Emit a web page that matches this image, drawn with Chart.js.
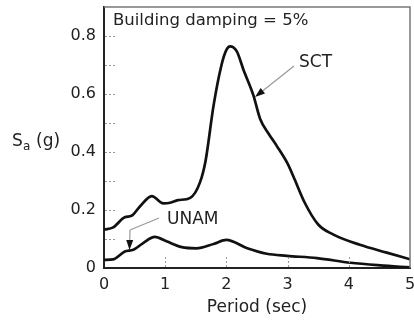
<!DOCTYPE html>
<html>
<head>
<meta charset="utf-8">
<script src="https://cdn.jsdelivr.net/npm/chart.js@4/dist/chart.umd.min.js"></script>
<style>
    html, body { margin: 0; padding: 0; background: #fff; overflow: hidden; }
    #wrap { width: 422px; height: 320px; }
</style>
</head>
<body>
<div id="wrap"><canvas id="espectro" width="422" height="320"></canvas></div>
<script>
// periodo (s) e Sa (g)
const sctPeriodo = [0, 0.15, 0.34, 0.45, 0.59, 0.78, 0.97, 1.08, 1.21, 1.41, 1.57, 1.66, 1.79, 1.92, 2.0, 2.06, 2.17, 2.28, 2.44, 2.55, 2.69, 2.82, 3.0, 3.09, 3.28, 3.5, 3.75, 4.18, 4.62, 5.0];
const sctSa = [0.132, 0.14, 0.175, 0.18, 0.213, 0.248, 0.223, 0.225, 0.234, 0.242, 0.296, 0.37, 0.56, 0.70, 0.752, 0.764, 0.747, 0.683, 0.596, 0.515, 0.463, 0.422, 0.36, 0.318, 0.225, 0.15, 0.115, 0.08, 0.053, 0.03];

const unamPeriodo = [0, 0.15, 0.34, 0.48, 0.64, 0.83, 1.02, 1.27, 1.51, 1.79, 2.0, 2.34, 2.66, 2.99, 3.48, 4.03, 4.51, 5.0];
const unamSa = [0.028, 0.03, 0.057, 0.063, 0.086, 0.107, 0.092, 0.072, 0.068, 0.083, 0.097, 0.068, 0.049, 0.042, 0.034, 0.018, 0.009, 0.002];

const yTicks = [0, 0.2, 0.4, 0.6, 0.8];
const yMinorTicks = [0.1, 0.2, 0.3, 0.4, 0.5, 0.6, 0.7, 0.8];
const xTicks = [0, 1, 2, 3, 4, 5];
const xMinorTicks = [1, 2, 3, 4];

const FONTE = '"DejaVu Sans", Verdana, sans-serif';
const COR_TEXTO = '#222';

function pontos(xs, ys) {
    return xs.map((x, i) => ({ x: x, y: ys[i] }));
}

function seta(ctx, x0, y0, x1, y1) {
    const ang = Math.atan2(y1 - y0, x1 - x0);
    const tam = 10;
    ctx.strokeStyle = '#999';
    ctx.lineWidth = 1.2;
    ctx.beginPath();
    ctx.moveTo(x0, y0);
    ctx.lineTo(x1 - Math.cos(ang) * tam, y1 - Math.sin(ang) * tam);
    ctx.stroke();
    ctx.fillStyle = '#111';
    ctx.beginPath();
    ctx.moveTo(x1, y1);
    ctx.lineTo(x1 - tam * Math.cos(ang) + 3.5 * Math.sin(ang), y1 - tam * Math.sin(ang) - 3.5 * Math.cos(ang));
    ctx.lineTo(x1 - tam * Math.cos(ang) - 3.5 * Math.sin(ang), y1 - tam * Math.sin(ang) + 3.5 * Math.cos(ang));
    ctx.closePath();
    ctx.fill();
}

const extras = {
    id: 'extras',
    afterDraw(chart) {
        const ctx = chart.ctx;
        const a = chart.chartArea;
        const sx = chart.scales.x, sy = chart.scales.y;
        ctx.save();

        // moldura superior e direita
        ctx.strokeStyle = '#777';
        ctx.lineWidth = 1.5;
        ctx.beginPath();
        ctx.moveTo(a.left, a.top);
        ctx.lineTo(a.right, a.top);
        ctx.lineTo(a.right, a.bottom);
        ctx.stroke();

        // marcas pontilhadas internas
        ctx.strokeStyle = '#999';
        ctx.lineWidth = 1;
        ctx.setLineDash([2, 2]);
        yMinorTicks.forEach(v => {
            const y = Math.round(sy.getPixelForValue(v)) + 0.5;
            ctx.beginPath();
            ctx.moveTo(a.left + 1, y);
            ctx.lineTo(a.left + 11, y);
            ctx.stroke();
        });
        xMinorTicks.forEach(v => {
            const x = Math.round(sx.getPixelForValue(v)) + 0.5;
            ctx.beginPath();
            ctx.moveTo(x, a.bottom - 1);
            ctx.lineTo(x, a.bottom - 11);
            ctx.stroke();
        });
        ctx.setLineDash([]);

        // textos
        ctx.fillStyle = COR_TEXTO;
        ctx.textBaseline = 'middle';
        ctx.textAlign = 'left';
        ctx.font = '16.5px ' + FONTE;
        ctx.fillText('Building damping = 5%', a.left + 9, a.top + 14);
        ctx.font = '17px ' + FONTE;
        ctx.fillText('SCT', 299, 63);
        ctx.fillText('UNAM', 167, 220);

        // titulo do eixo y com subscrito
        ctx.textBaseline = 'alphabetic';
        ctx.font = '17px ' + FONTE;
        ctx.fillText('S', 12, 146);
        ctx.font = '12px ' + FONTE;
        ctx.fillText('a', 23, 150);
        ctx.font = '17px ' + FONTE;
        ctx.fillText('(g)', 36, 146);

        // setas
        seta(ctx, 294, 66, 255, 97);
        ctx.strokeStyle = '#999';
        ctx.lineWidth = 1.2;
        ctx.beginPath();
        ctx.moveTo(159, 218);
        ctx.lineTo(130, 230);
        ctx.stroke();
        seta(ctx, 130, 230, 129.5, 250);

        ctx.restore();
    }
};

new Chart(document.getElementById('espectro'), {
    type: 'line',
    data: {
        datasets: [
            {
                label: 'SCT',
                data: pontos(sctPeriodo, sctSa),
                borderColor: '#111',
                borderWidth: 2.7,
                pointRadius: 0,
                cubicInterpolationMode: 'monotone',
                fill: false
            },
            {
                label: 'UNAM',
                data: pontos(unamPeriodo, unamSa),
                borderColor: '#111',
                borderWidth: 2.7,
                pointRadius: 0,
                cubicInterpolationMode: 'monotone',
                fill: false
            }
        ]
    },
    options: {
        responsive: false,
        animation: false,
        layout: { autoPadding: false, padding: { top: 7, right: 12, left: 0, bottom: 0 } },
        plugins: {
            legend: { display: false },
            tooltip: { enabled: false }
        },
        scales: {
            x: {
                type: 'linear',
                min: 0,
                max: 5,
                afterBuildTicks: s => { s.ticks = xTicks.map(v => ({ value: v })); },
                afterFit: s => { s.height = 52; s.paddingLeft = 0; s.paddingRight = 0; },
                grid: { display: false, drawTicks: false },
                border: { color: '#222', width: 2 },
                ticks: {
                    color: COR_TEXTO,
                    padding: 7,
                    maxRotation: 0,
                    font: { family: FONTE, size: 16 }
                },
                title: {
                    display: true,
                    text: 'Period (sec)',
                    color: COR_TEXTO,
                    font: { family: FONTE, size: 17 },
                    padding: { top: 0, bottom: 2 }
                }
            },
            y: {
                min: 0,
                max: 0.9,
                afterBuildTicks: s => { s.ticks = yTicks.map(v => ({ value: v })); },
                afterFit: s => { s.width = 104; s.paddingTop = 0; s.paddingBottom = 0; },
                grid: { display: false, drawTicks: false },
                border: { color: '#222', width: 2 },
                ticks: {
                    color: COR_TEXTO,
                    padding: 8,
                    font: { family: FONTE, size: 16 },
                    callback: v => v === 0 ? '0' : v.toFixed(1)
                }
            }
        }
    },
    plugins: [extras]
});
</script>
</body>
</html>
